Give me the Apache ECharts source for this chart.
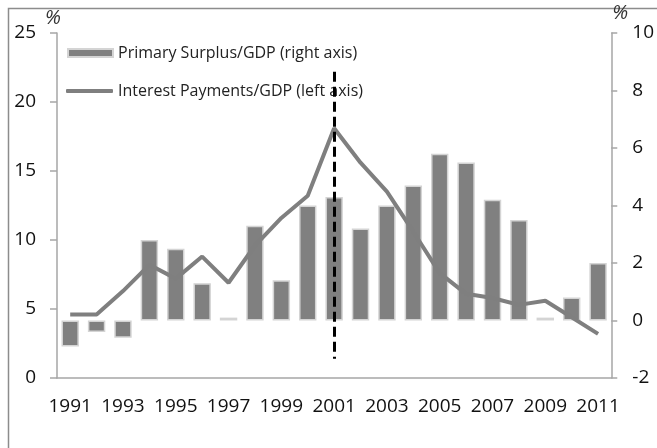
<!DOCTYPE html>
<html>
<head>
<meta charset="utf-8">
<script src="https://cdn.jsdelivr.net/npm/echarts@6/dist/echarts.min.js"></script>
<style>
  html, body { margin: 0; padding: 0; background: #fff; }
  #chart { width: 657px; height: 448px; }
</style>
</head>
<body>
<div id="chart"></div>
<script>
  // data
  var years = ['1991','1992','1993','1994','1995','1996','1997','1998','1999','2000',
               '2001','2002','2003','2004','2005','2006','2007','2008','2009','2010','2011'];
  // primary surplus, % of GDP (right axis)
  var primarySurplus = [-0.9, -0.4, -0.6, 2.8, 2.5, 1.3, 0.1, 3.3, 1.4, 4.0,
                        4.3, 3.2, 4.0, 4.7, 5.8, 5.5, 4.2, 3.5, 0.1, 0.8, 2.0];
  // interest payments, % of GDP (left axis)
  var interestPayments = [4.6, 4.6, 6.3, 8.2, 7.2, 8.8, 6.9, 9.6, 11.6, 13.2,
                          18.1, 15.6, 13.5, 10.6, 7.6, 6.1, 5.8, 5.3, 5.6, 4.4, 3.2];
  var leftTicks = { min: 0, max: 25, interval: 5 };
  var rightTicks = { min: -2, max: 10, interval: 2 };

  var font = '"Open Sans", sans-serif';
  var axisGray = '#a6a6a6';
  var legendText = { fontFamily: font, fontSize: 16, color: '#222' };

  var myChart = echarts.init(document.getElementById('chart'));
  myChart.setOption({
    animation: false,
    textStyle: { fontFamily: font },
    graphic: [{
      type: 'rect',
      shape: { x: 8.5, y: 8.5, width: 720, height: 520 },
      style: { fill: 'none', stroke: '#8c8c8c', lineWidth: 1.5 },
      silent: true
    }],
    grid: { left: 57, right: 42, top: 33, bottom: 70 },
    legend: [{
      left: 62,
      top: 40,
      itemWidth: 45,
      itemHeight: 8,
      textStyle: legendText,
      data: [{ name: 'Primary Surplus/GDP (right axis)', icon: 'rect' }]
    }, {
      left: 61,
      top: 78,
      itemWidth: 47,
      itemHeight: 4,
      textStyle: legendText,
      data: [{ name: 'Interest Payments/GDP (left axis)', icon: 'roundRect' }]
    }],
    xAxis: {
      type: 'category',
      data: years,
      boundaryGap: true,
      axisLine: { lineStyle: { color: axisGray, width: 1.5 } },
      axisTick: { interval: 0, length: 6, lineStyle: { color: axisGray, width: 1.5 } },
      axisLabel: { interval: 1, margin: 19, fontSize: 19, color: '#111', fontFamily: font }
    },
    yAxis: [{
      type: 'value',
      position: 'left',
      min: leftTicks.min, max: leftTicks.max, interval: leftTicks.interval,
      name: '%',
      nameGap: 5,
      nameTextStyle: { fontSize: 20, fontStyle: 'italic', color: '#333', fontFamily: font, align: 'left', padding: [0, 0, 0, -12] },
      splitLine: { show: false },
      axisLine: { show: true, lineStyle: { color: axisGray, width: 1.5 } },
      axisTick: { show: true, length: 7, lineStyle: { color: axisGray, width: 1.5 } },
      axisLabel: { margin: 21, fontSize: 19, color: '#111', fontFamily: font }
    }, {
      type: 'value',
      position: 'right',
      min: rightTicks.min, max: rightTicks.max, interval: rightTicks.interval,
      name: '%',
      nameGap: 3,
      nameTextStyle: { fontSize: 20, fontStyle: 'italic', color: '#333', fontFamily: font, align: 'left', padding: [0, 0, 0, 1] },
      splitLine: { show: false },
      axisLine: { show: true, lineStyle: { color: axisGray, width: 1.5 } },
      axisTick: { show: true, length: 6, lineStyle: { color: axisGray, width: 1.5 } },
      axisLabel: { margin: 21, fontSize: 19, color: '#111', fontFamily: font }
    }],
    series: [{
      name: 'Primary Surplus/GDP (right axis)',
      type: 'bar',
      yAxisIndex: 1,
      data: primarySurplus,
      barCategoryGap: '34%',
      itemStyle: { color: '#808080', borderColor: '#d4d4d4', borderWidth: 1.5 }
    }, {
      name: 'Interest Payments/GDP (left axis)',
      type: 'line',
      yAxisIndex: 0,
      data: interestPayments,
      symbol: 'none',
      lineStyle: { color: '#7f7f7f', width: 4 },
      itemStyle: { color: '#7f7f7f' },
      z: 3,
      markLine: {
        silent: true,
        symbol: 'none',
        label: { show: false },
        lineStyle: { color: '#000', width: 3, type: [10, 5] },
        data: [[
          { coord: ['2001', 22.2] },
          { coord: ['2001', 1.4] }
        ]]
      }
    }]
  });
</script>
</body>
</html>
